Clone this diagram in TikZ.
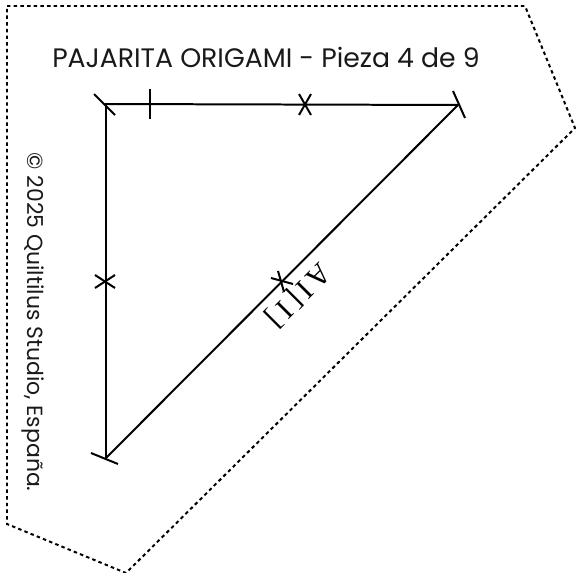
\documentclass[tikz,border=0pt]{standalone}
\usepackage{fontspec}
\setmainfont{Poppins}
\newfontfamily\serifcut[LetterSpace=14]{Liberation Serif}
\tikzset{
  cutline/.style={line width=2pt,dash pattern=on 3.5pt off 3.2pt,black},
  seam/.style={line width=2pt,black},
  tick/.style={line width=2pt,black},
  titletext/.style={font=\fontsize{26.8}{30}\selectfont,text=black!90,inner sep=0pt,anchor=center},
  copytext/.style={font=\fontsize{22}{25}\selectfont,text=black!90,inner sep=0pt,anchor=center,rotate=-90},
  piecelabel/.style={font=\serifcut\fontsize{30}{32}\selectfont,inner sep=0pt,anchor=center,rotate=225}
}
\begin{document}
\begin{tikzpicture}[x=1bp,y=-1bp]
\useasboundingbox (0,0) rectangle (576,573);
\coordinate (p1) at (7,6);
\coordinate (p2) at (525,6);
\coordinate (p3) at (575,128);
\coordinate (p4) at (126,573);
\coordinate (p5) at (7,524);
\draw[cutline] (p1) -- (p2) -- (p3) -- (p4) -- (p5) -- cycle;
\coordinate (a) at (106,104);
\coordinate (b) at (458,105);
\coordinate (c) at (106,458);
\draw[seam] (a) -- (b) -- (c) -- cycle;
\draw[tick] (94,94) -- (115,115);
\draw[tick] (453,91) -- (465,118);
\draw[tick] (91,453) -- (118,464);
\draw[tick] (150,89) -- (150,119);
\draw[tick] (299,94) -- (311,115);
\draw[tick] (311,94) -- (299,115);
\draw[tick] (95,275) -- (115,288);
\draw[tick] (115,275) -- (95,288);
\draw[tick] (271,278) -- (293,284);
\draw[tick] (278,271) -- (284,292);
\node[titletext] (title) at (266,57) {PAJARITA ORIGAMI - Pieza 4 de 9};
\node[copytext] (copy) at (33,322) {© 2025 Quiltilus Studio, España.};
\node[piecelabel] (piece) at (298,295) {AI[I]};
\end{tikzpicture}
\end{document}
